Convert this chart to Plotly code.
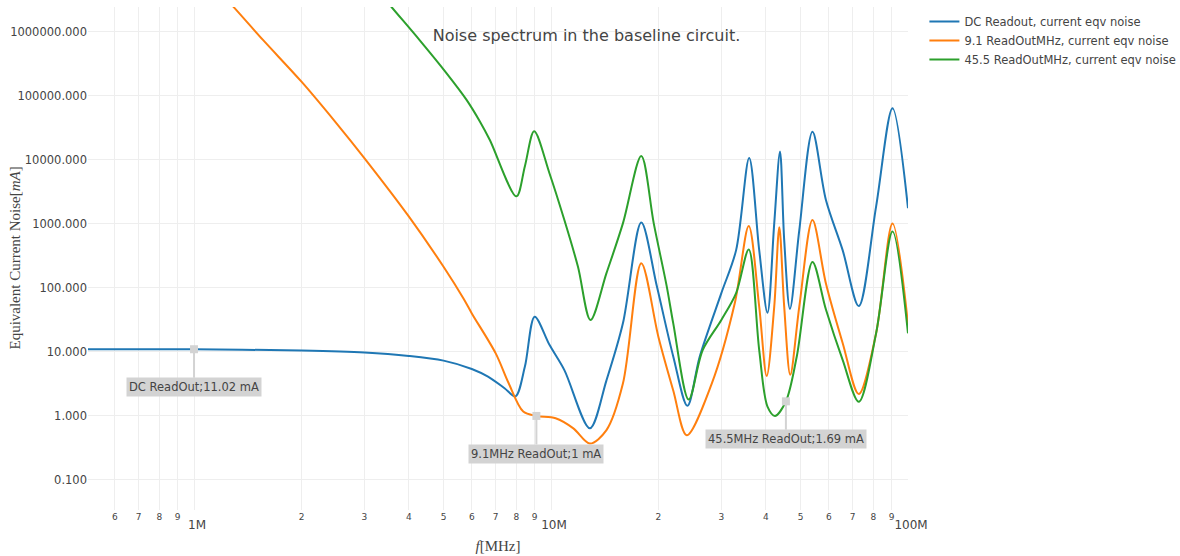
import math
import plotly.graph_objects as go

# ---- data (frequency in Hz, noise in mA) ----
dc_freq = [5.0e5, 1.0e6, 2.0e6, 3.0e6, 4.0e6, 5.0e6, 6.0e6, 6.66e6, 7.41e6, 7.95e6, 8.45e6, 9.0e6,
           9.9e6, 10.9e6, 12.85e6, 14.3e6, 15.9e6, 17.9e6, 19.8e6, 22e6, 24.1e6, 26.1e6,
           30e6, 33e6, 35.9e6, 38.3e6, 40.4e6, 42.2e6, 43.8e6, 45e6, 46.7e6, 49.6e6,
           54e6, 58.9e6, 65.6e6, 72.8e6, 81.4e6, 90.5e6, 100e6]
dc_noise = [11.05, 11.02, 10.5, 9.8, 8.66, 7.31, 5.42, 4.11, 2.71, 2.02, 5.9, 35.6,
            12.9, 5.2, 0.64, 3.6, 28, 1050, 105, 8.5, 1.44, 8.5,
            83, 390, 10700, 390, 41, 1020, 13600, 560, 47, 800,
            27500, 2370, 390, 52, 1870, 64500, 1760]

r9_freq = [1.2e6, 1.29e6, 1.56e6, 2.0e6, 2.51e6, 3.0e6, 4.0e6, 5.0e6, 5.68e6, 6.0e6, 7.0e6,
           7.6e6, 8.36e6, 9.1e6, 10.3e6, 11.55e6, 12.85e6, 14.3e6, 15.9e6, 17.9e6, 20e6, 22e6,
           24e6, 28.2e6, 32.7e6, 35.8e6, 38.3e6, 40.2e6, 42.2e6, 43.6e6, 45e6, 46.8e6,
           49.6e6, 54e6, 58.9e6, 65.6e6, 72.8e6, 81.4e6, 90.5e6, 100e6]
r9_noise = [3.8e6, 2.46e6, 7.5e5, 1.67e5, 3.7e4, 1.07e4, 1300, 214, 69, 40, 9.5,
            3.3, 1.17, 1.0, 0.92, 0.64, 0.37, 0.6, 3.2, 243, 17, 2.5,
            0.5, 3.2, 57, 930, 51, 4.2, 51, 890, 51, 4.4,
            51, 1150, 117, 13.8, 2.2, 19.5, 1020, 27]

r45_freq = [3.3e6, 3.58e6, 4.29e6, 5.1e6, 5.8e6, 6.32e6, 6.74e6, 8.0e6, 8.45e6, 8.97e6,
            9.9e6, 10.9e6, 11.9e6, 12.9e6, 14.3e6, 15.9e6, 17.9e6, 19.4e6, 21.1e6, 22e6,
            24.3e6, 26.6e6, 30e6, 33e6, 35.8e6, 38.3e6, 40.4e6, 42.4e6, 45.5e6, 48.8e6,
            54e6, 58.9e6, 65.6e6, 72.8e6, 81.4e6, 90.5e6, 100e6]
r45_noise = [4.2e6, 2.43e6, 7.4e5, 2.26e5, 8.7e4, 4.0e4, 2.05e4, 2700, 8000, 28000,
             6200, 1150, 214, 31.6, 170, 1020, 11500, 1020, 105, 28,
             1.8, 10.7, 31.6, 83, 400, 10.7, 1.4, 1.0, 1.69, 8.5,
             255, 46, 7.5, 1.66, 19.5, 760, 19.5]

series_names = ["DC Readout, current eqv noise",
                "9.1 ReadOutMHz, current eqv noise",
                "45.5 ReadOutMHz, current eqv noise"]
series_colors = ["#1f77b4", "#ff7f0e", "#2ca02c"]

ann_freq = [1.0e6, 9.1e6, 45.5e6]
ann_value = [11.02, 1.0, 1.69]
ann_text = ["DC ReadOut;11.02 mA", "9.1MHz ReadOut;1 mA", "45.5MHz ReadOut;1.69 mA"]

y_ticks = [0.1, 1, 10, 100, 1000, 10000, 100000, 1000000]

FONT = "Verdana, DejaVu Sans, sans-serif"
SERIF = "Liberation Serif, DejaVu Serif, serif"

fig = go.Figure()
for fx, fy, name, col in zip([dc_freq, r9_freq, r45_freq],
                             [dc_noise, r9_noise, r45_noise],
                             series_names, series_colors):
    fig.add_trace(go.Scatter(x=fx, y=fy, mode="lines", name=name,
                             line=dict(color=col, width=2, shape="spline", smoothing=0.9)))

# annotations on log axes are placed in log10 units
for fx, fy, t in zip(ann_freq, ann_value, ann_text):
    fig.add_annotation(x=math.log10(fx), y=math.log10(fy), xref="x", yref="y", text=t,
                       showarrow=True, ax=0, ay=38, arrowhead=7, arrowsize=1.0, arrowwidth=2,
                       arrowcolor="#d3d3d3", bgcolor="#d3d3d3", borderpad=2,
                       font=dict(family=FONT, size=11.5, color="#444"))

# y-axis title as a rotated annotation (sits over the tick-label column like the original)
fig.add_annotation(x=-0.0902, y=0.5, xref="paper", yref="paper", showarrow=False,
                   text="Equivalent Current Noise[<i>mA</i>]", textangle=-90,
                   xanchor="center", yanchor="middle",
                   font=dict(family=SERIF, size=15, color="#444"))

fig.update_layout(
    width=1180, height=556,
    margin=dict(l=88, r=272, t=7, b=46, autoexpand=False),
    paper_bgcolor="white", plot_bgcolor="white",
    font=dict(family=FONT, size=12, color="#444"),
    title=dict(text="Noise spectrum in the baseline circuit.", x=0.497, xref="container",
               y=0.937, yref="container", xanchor="center", yanchor="middle",
               font=dict(family=FONT, size=16, color="#444")),
    legend=dict(x=1.02, y=1.0, xanchor="left", yanchor="top",
                font=dict(family=FONT, size=11.5, color="#444")),
    showlegend=True,
)
fig.update_xaxes(type="log", range=[5.703, 8.0], dtick="D1", exponentformat="SI",
                 showgrid=True, gridcolor="#eeeeee", zeroline=False, showline=False,
                 ticks="", tickfont=dict(family=FONT, size=12, color="#444"),
                 title=dict(text="<i>f</i>[MHz]", standoff=9,
                            font=dict(family=SERIF, size=15, color="#444")),
                 automargin=False)
fig.update_yaxes(type="log", range=[-1.47, 6.39], tickvals=y_ticks, tickformat=".3f",
                 showgrid=True, gridcolor="#eeeeee", zeroline=False, showline=False,
                 ticks="", tickfont=dict(family=FONT, size=11.5, color="#444"),
                 automargin=False)

fig.write_html("out.html", config={"displayModeBar": False},
               post_script="document.body.style.margin='0';document.body.style.overflow='hidden';")
